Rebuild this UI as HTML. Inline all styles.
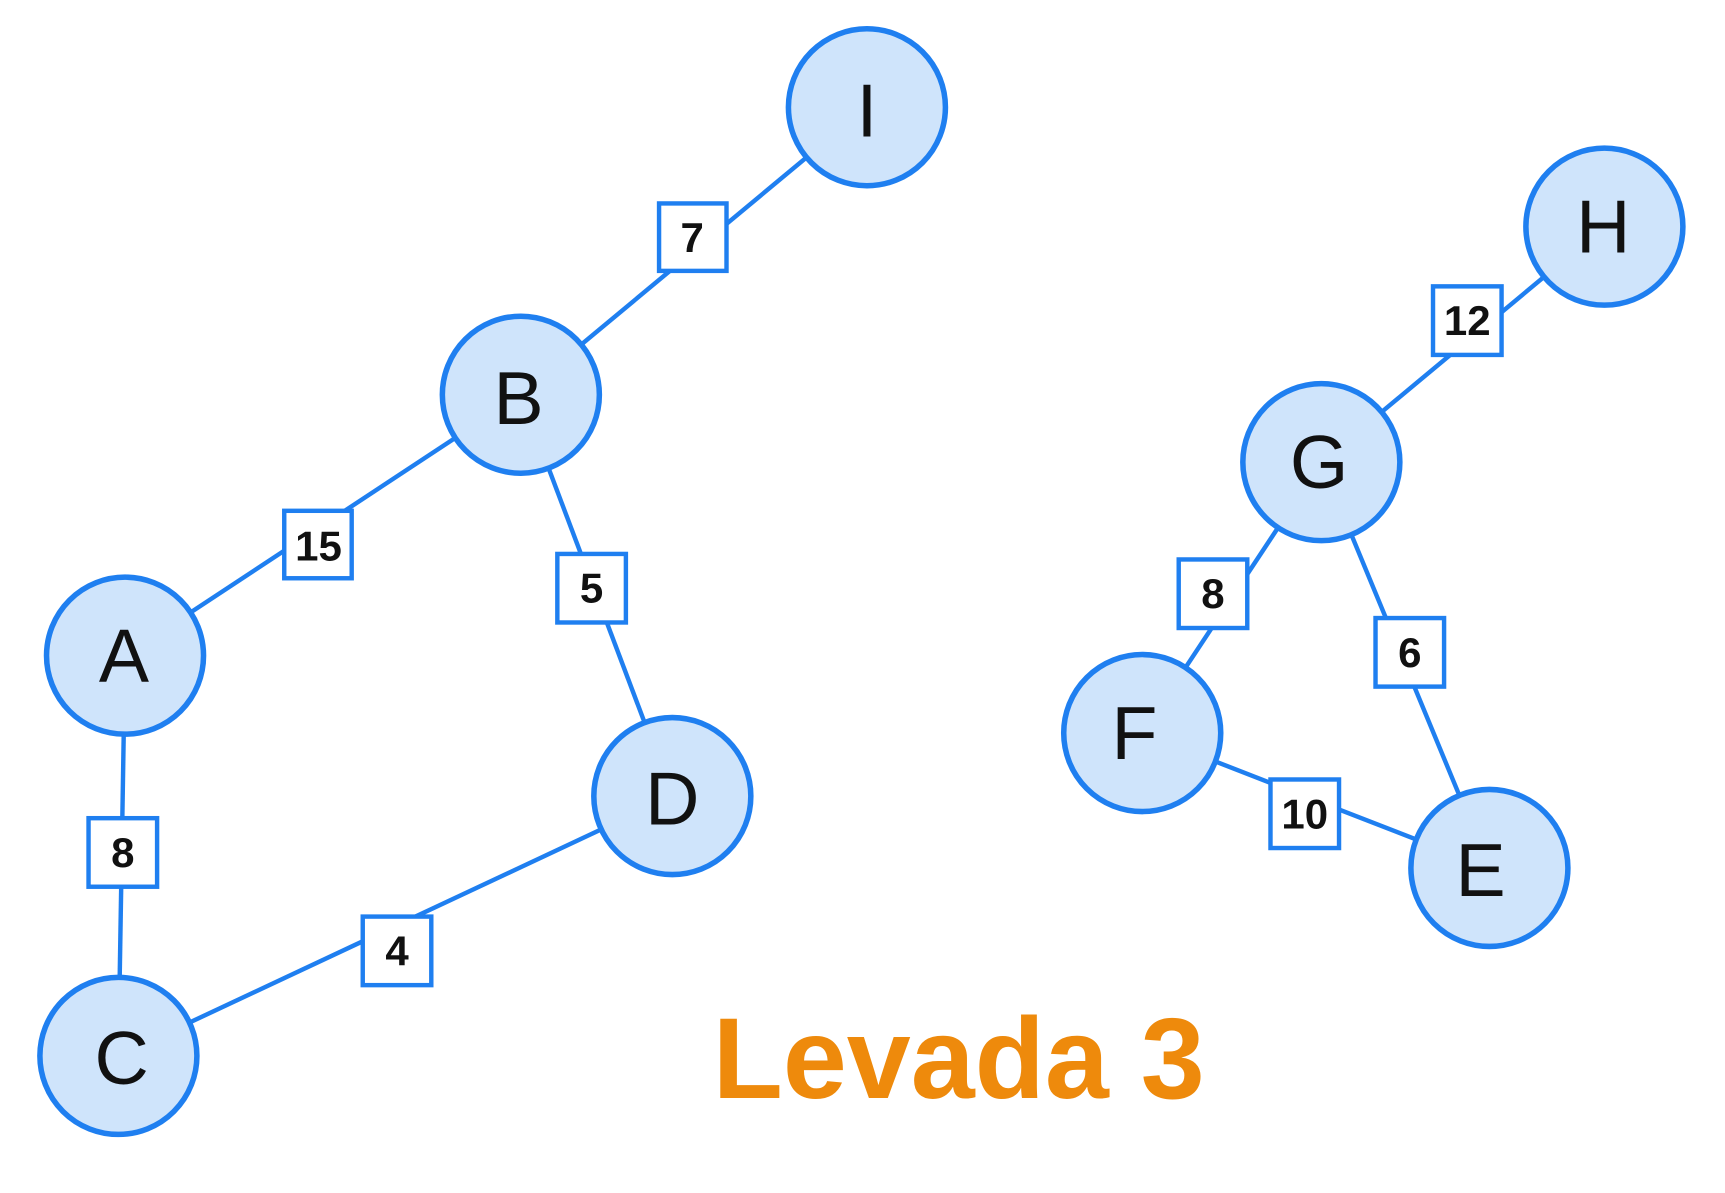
<!DOCTYPE html>
<html><head><meta charset="utf-8"><style>
html,body{margin:0;padding:0;background:#fff;}
svg{display:block}
</style></head><body>
<svg width="1725" height="1193" viewBox="0 0 1560 1079" xmlns="http://www.w3.org/2000/svg">
<g stroke="#1f7ff0" stroke-width="4" fill="none">
<line x1="784" y1="97" x2="471" y2="357"/>
<line x1="471" y1="357" x2="113" y2="593"/>
<line x1="471" y1="357" x2="608" y2="720"/>
<line x1="113" y1="593" x2="107" y2="955"/>
<line x1="608" y1="720" x2="107" y2="955"/>
<line x1="1451" y1="205" x2="1195" y2="418"/>
<line x1="1195" y1="418" x2="1033" y2="663"/>
<line x1="1195" y1="418" x2="1347" y2="785"/>
<line x1="1033" y1="663" x2="1347" y2="785"/>
</g>
<g fill="#cfe4fb" stroke="#1f7ff0" stroke-width="5">
<circle cx="784" cy="97" r="71"/>
<circle cx="471" cy="357" r="71"/>
<circle cx="113" cy="593" r="71"/>
<circle cx="608" cy="720" r="71"/>
<circle cx="107" cy="955" r="71"/>
<circle cx="1451" cy="205" r="71"/>
<circle cx="1195" cy="418" r="71"/>
<circle cx="1033" cy="663" r="71"/>
<circle cx="1347" cy="785" r="71"/>
</g>
<g font-family="Liberation Sans, sans-serif" font-size="68" fill="#111" text-anchor="middle" dominant-baseline="central">
<text x="784" y="100">I</text>
<text x="469" y="360">B</text>
<text x="112" y="593">A</text>
<text x="608" y="722">D</text>
<text x="110" y="957">C</text>
<text x="1450" y="205">H</text>
<text x="1193" y="418">G</text>
<text x="1026" y="663">F</text>
<text x="1339" y="787">E</text>
</g>
<g fill="#fff" stroke="#1f7ff0" stroke-width="4">
<rect x="596" y="184" width="61" height="61"/>
<rect x="257" y="462" width="61" height="61"/>
<rect x="504" y="501" width="62" height="62"/>
<rect x="80" y="740" width="62" height="62"/>
<rect x="328" y="829" width="62" height="62"/>
<rect x="1296" y="259" width="62" height="62"/>
<rect x="1066" y="506" width="62" height="62"/>
<rect x="1244" y="559" width="62" height="62"/>
<rect x="1149" y="705" width="62" height="62"/>
</g>
<g font-family="Liberation Sans, sans-serif" font-size="38" font-weight="bold" fill="#111" text-anchor="middle" dominant-baseline="central">
<text x="626" y="215">7</text>
<text x="288" y="494">15</text>
<text x="535" y="532">5</text>
<text x="111" y="771">8</text>
<text x="359" y="860">4</text>
<text x="1327" y="290">12</text>
<text x="1097" y="537">8</text>
<text x="1275" y="590">6</text>
<text x="1180" y="736">10</text>
</g>
<text x="867" y="993" font-family="Liberation Sans, sans-serif" font-size="104" font-weight="bold" fill="#ee8a0c" text-anchor="middle">Levada 3</text>
</svg>
</body></html>
